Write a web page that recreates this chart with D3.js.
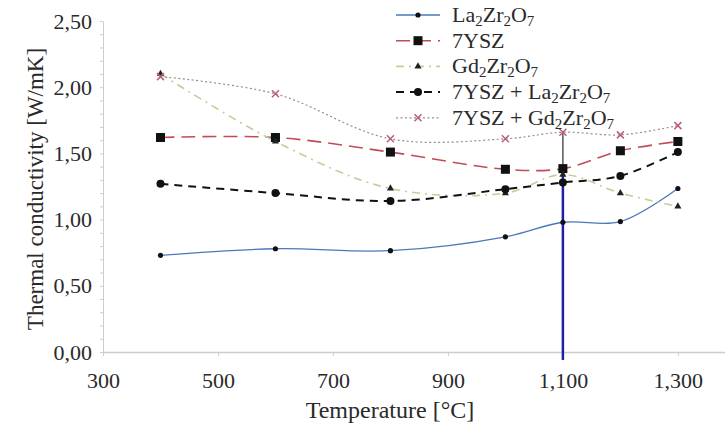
<!DOCTYPE html>
<html>
<head>
<meta charset="utf-8">
<script src="https://cdn.jsdelivr.net/npm/d3@7"></script>
<style>
  body { margin: 0; background: #fff; }
</style>
</head>
<body>
<div id="chart"></div>
<script>
// data
const temps = [400, 600, 800, 1000, 1100, 1200, 1300];
const la2zr2o7 = [0.73, 0.78, 0.765, 0.87, 0.98, 0.985, 1.235];
const ysz = [1.62, 1.62, 1.51, 1.38, 1.385, 1.52, 1.59];
const gd2zr2o7 = [2.10, 1.59, 1.235, 1.20, 1.34, 1.20, 1.10];
const yszLa = [1.27, 1.20, 1.14, 1.23, 1.28, 1.33, 1.51];
const yszGd = [2.08, 1.95, 1.61, 1.61, 1.66, 1.64, 1.71];
const xTicks = [300, 500, 700, 900, 1100, 1300];
const yTicks = [0, 0.5, 1, 1.5, 2, 2.5];
// vertical marker at 1100 (grey top part, blue lower part)
const markerX = 1100, markerTop = 1.67, markerMid = 1.35, markerBottom = -0.06;

const width = 725, height = 429;
const FONT = "'Liberation Serif', 'Times New Roman', Times, serif";
const svg = d3.select("#chart").append("svg").attr("width", width).attr("height", height)
  .attr("font-family", FONT);

const x = d3.scaleLinear().domain([300, 1382]).range([103, 725]);
const y = d3.scaleLinear().domain([0, 2.5]).range([352, 21]);

const fmt = d3.format(".2f");
const comma = d => fmt(d).replace(".", ",");

// axes
const yAxis = svg.append("g").attr("transform", "translate(103,0)")
  .call(d3.axisLeft(y).tickValues(d3.range(0, 25.5, 1).map(v => v / 10)).tickSize(3).tickSizeOuter(0)
    .tickFormat(d => yTicks.some(t => Math.abs(t - d) < 1e-6) ? comma(d) : ""));
yAxis.attr("font-family", FONT);
yAxis.select(".domain").attr("stroke", "#ccc");
yAxis.selectAll(".tick line").attr("stroke", "#ccc");
yAxis.selectAll(".tick text").attr("font-size", 22).attr("x", -11).attr("fill", "#2a2a2a");

const xAxis = svg.append("g").attr("transform", "translate(0,352)")
  .call(d3.axisBottom(x).tickValues(xTicks).tickSize(4).tickSizeOuter(0).tickFormat(d3.format(",")));
xAxis.attr("font-family", FONT);
xAxis.select(".domain").attr("stroke", "#ccc").attr("stroke-width", 1.5);
xAxis.selectAll(".tick line").attr("stroke", "#ccc");
xAxis.selectAll(".tick text").attr("font-size", 22).attr("y", 0).attr("dy", 36).attr("fill", "#2a2a2a");

svg.append("text").attr("x", 390).attr("y", 418).attr("text-anchor", "middle")
  .attr("font-size", 24).attr("fill", "#2a2a2a").text("Temperature [°C]");
svg.append("text").attr("transform", "translate(43,189) rotate(-90)")
  .attr("text-anchor", "middle").attr("font-size", 23).attr("fill", "#2a2a2a").text("Thermal conductivity [W/mK]");

// series
const series = [
  { vals: la2zr2o7, color: "#4a78b8", dash: null, width: 1.3, marker: "dot" },
  { vals: ysz, color: "#c24c55", dash: "14,7", width: 1.6, marker: "square" },
  { vals: gd2zr2o7, color: "#c3cf98", dash: "8,5,2,5", width: 1.6, marker: "triangle" },
  { vals: yszLa, color: "#111", dash: "8,6", width: 2, marker: "circle" },
  { vals: yszGd, color: "#9a8a92", dash: "2,2.5", width: 1.2, marker: "cross" }
];

const line = d3.line().x(d => x(d[0])).y(d => y(d[1])).curve(d3.curveCatmullRom.alpha(0.5));

function drawMarker(g, type, cx, cy) {
  if (type === "dot") g.append("circle").attr("cx", cx).attr("cy", cy).attr("r", 2.6).attr("fill", "#111");
  else if (type === "circle") g.append("circle").attr("cx", cx).attr("cy", cy).attr("r", 4).attr("fill", "#111");
  else if (type === "square") g.append("rect").attr("x", cx - 4.5).attr("y", cy - 4.5).attr("width", 9).attr("height", 9).attr("fill", "#111");
  else if (type === "triangle") g.append("path").attr("d", d3.symbol(d3.symbolTriangle, 22)()).attr("transform", `translate(${cx},${cy})`).attr("fill", "#222");
  else if (type === "cross") g.append("path").attr("d", `M${cx - 3.5},${cy - 3.5}L${cx + 3.5},${cy + 3.5}M${cx - 3.5},${cy + 3.5}L${cx + 3.5},${cy - 3.5}`).attr("stroke", "#b8607a").attr("stroke-width", 1.5);
}

// vertical marker line
svg.append("line").attr("x1", x(markerX)).attr("x2", x(markerX)).attr("y1", y(markerTop)).attr("y2", y(markerMid))
  .attr("stroke", "#555").attr("stroke-width", 1.5);

series.forEach(s => {
  const pts = temps.map((t, i) => [t, s.vals[i]]);
  svg.append("path").attr("d", line(pts)).attr("fill", "none").attr("stroke", s.color)
    .attr("stroke-width", s.width).attr("stroke-dasharray", s.dash);
});

svg.append("line").attr("x1", x(markerX)).attr("x2", x(markerX)).attr("y1", y(markerMid)).attr("y2", y(markerBottom))
  .attr("stroke", "#1f1fa8").attr("stroke-width", 2.5);

series.forEach(s => {
  const g = svg.append("g");
  temps.forEach((t, i) => drawMarker(g, s.marker, x(t), y(s.vals[i])));
});

// legend
const legendLabels = [
  ["La", "2", "Zr", "2", "O", "7"],
  ["7YSZ"],
  ["Gd", "2", "Zr", "2", "O", "7"],
  ["7YSZ + La", "2", "Zr", "2", "O", "7"],
  ["7YSZ + Gd", "2", "Zr", "2", "O", "7"]
];
series.forEach((s, i) => {
  const ly = 15 + i * 25.7;
  const g = svg.append("g");
  g.append("line").attr("x1", 396).attr("x2", 440).attr("y1", ly).attr("y2", ly)
    .attr("stroke", s.color).attr("stroke-width", s.width).attr("stroke-dasharray", s.dash);
  drawMarker(g, s.marker, 418, ly);
  const t = g.append("text").attr("x", 452).attr("y", ly + 7).attr("font-size", 22).attr("fill", "#2a2a2a");
  legendLabels[i].forEach((part, j) => {
    const sub = j % 2 === 1;
    t.append("tspan").text(part).attr("font-size", sub ? 15 : 22).attr("dy", sub ? 4 : (j > 0 ? -4 : 0));
  });
});
</script>
</body>
</html>
